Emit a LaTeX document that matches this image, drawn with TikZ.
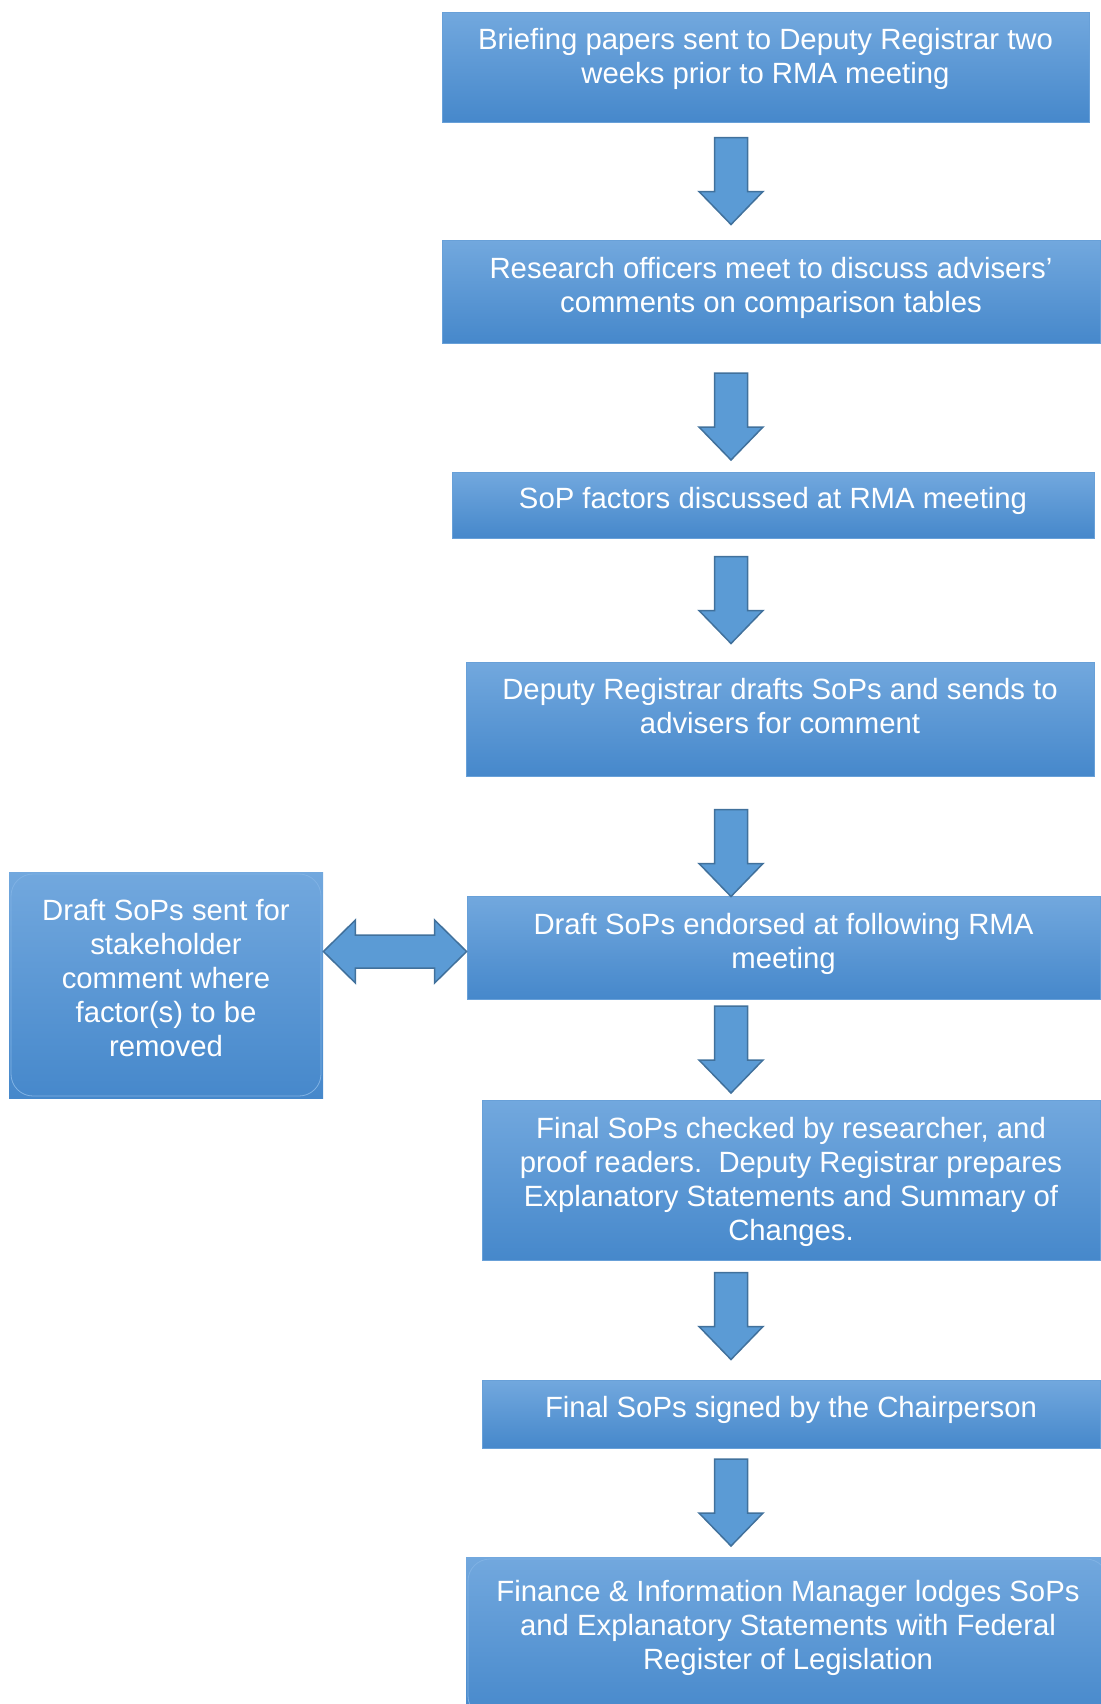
\documentclass[tikz,border=0pt]{standalone}
\usepackage{fontspec}
\setmainfont{Liberation Sans}
\usetikzlibrary{calc,shapes}
\definecolor{boxtop}{RGB}{114,168,222}
\definecolor{boxbot}{RGB}{70,136,203}
\definecolor{boxedge}{RGB}{104,160,216}
\definecolor{boxline}{RGB}{128,178,228}
\definecolor{arrfill}{RGB}{91,155,213}
\definecolor{arredge}{RGB}{65,113,156}

\tikzset{
  blockdown/.style={fill=arrfill, draw=arredge, line width=0.75pt, line join=miter,
    to path={let \p1=(\tikztostart), \p2=(\tikztotarget), \p3=($(\p1)!.5!(\p2)+(0,#1)$) in
      (\x3-8.25pt,\y3+21.75pt) -- (\x3+8.25pt,\y3+21.75pt) -- (\x3+8.25pt,\y3-5.25pt)
      -- (\x3+16pt,\y3-5.25pt) -- (\x3,\y3-21.75pt) -- (\x3-16pt,\y3-5.25pt)
      -- (\x3-8.25pt,\y3-5.25pt) -- cycle}},
  blockdown/.default=0,
  blockboth/.style={fill=arrfill, draw=arredge, line width=0.75pt, line join=miter,
    to path={let \p1=(\tikztostart), \p2=(\tikztotarget) in
      (\x1,\y2) -- (\x1+16pt,\y2+15.75pt) -- (\x1+16pt,\y2+8.25pt) -- (\x2-16pt,\y2+8.25pt)
      -- (\x2-16pt,\y2+15.75pt) -- (\x2,\y2) -- (\x2-16pt,\y2-15.75pt) -- (\x2-16pt,\y2-8.25pt)
      -- (\x1+16pt,\y2-8.25pt) -- (\x1+16pt,\y2-15.75pt) -- cycle}}
}

\begin{document}
\begin{tikzpicture}[x=0.5pt,y=-0.5pt]
\tikzstyle{box}=[rectangle, draw=boxedge, top color=boxtop, bottom color=boxbot, text=white, align=center, inner sep=0pt, text depth=7pt, font=\fontsize{14.65}{17}\selectfont]
\tikzstyle{roundbox}=[box, draw=none, path picture={\draw[boxline, rounded corners=11pt] ([shift={(1pt,-1pt)}]path picture bounding box.north west) rectangle ([shift={(-1pt,1pt)}]path picture bounding box.south east);}]
\useasboundingbox (0,0) rectangle (1100,1704);
\node[box, minimum width=323.5pt, minimum height=55pt, text depth=11.4pt] (b1) at (765.5,67) {Briefing papers sent to Deputy Registrar two\\weeks prior to RMA meeting};
\node[box, minimum width=329pt, minimum height=51.5pt] (b2) at (771,291.5) {Research officers meet to discuss advisers’\\comments on comparison tables};
\node[box, minimum width=321pt, minimum height=33pt] (b3) at (773,505) {SoP factors discussed at RMA meeting};
\node[box, minimum width=314pt, minimum height=57pt, text depth=13.5pt] (b4) at (780,719) {Deputy Registrar drafts SoPs and sends to\\advisers for comment};
\node[box, minimum width=316.5pt, minimum height=51.5pt] (b5) at (783.5,947.5) {Draft SoPs endorsed at following RMA\\meeting};
\node[roundbox, minimum width=157pt, minimum height=113pt] (lbox) at (166,985) {Draft SoPs sent for\\stakeholder\\comment where\\factor(s) to be\\removed};
\node[box, minimum width=309pt, minimum height=80pt, text depth=1.6pt] (b6) at (791,1180) {Final SoPs checked by researcher, and\\proof readers.\ \ Deputy Registrar prepares\\Explanatory Statements and Summary of\\Changes.};
\node[box, minimum width=309pt, minimum height=34pt] (b7) at (791,1414) {Final SoPs signed by the Chairperson};
\node[roundbox, minimum width=322pt, minimum height=81.5pt, text depth=13.5pt] (b8) at (788,1638.5) {Finance \& Information Manager lodges SoPs\\and Explanatory Statements with Federal\\Register of Legislation};
\coordinate (ax) at (731,0);
\foreach \from/\to/\s in {b1/b2/0,b2/b3/9,b3/b4/0,b4/b5/17,b5/b6/0,b6/b7/-4,b7/b8/0}
  \draw[blockdown=\s] (\from.south -| ax) to (\to.north -| ax);
\draw[blockboth] (lbox.east) to ([yshift=-2pt]b5.west);
\end{tikzpicture}
\end{document}
